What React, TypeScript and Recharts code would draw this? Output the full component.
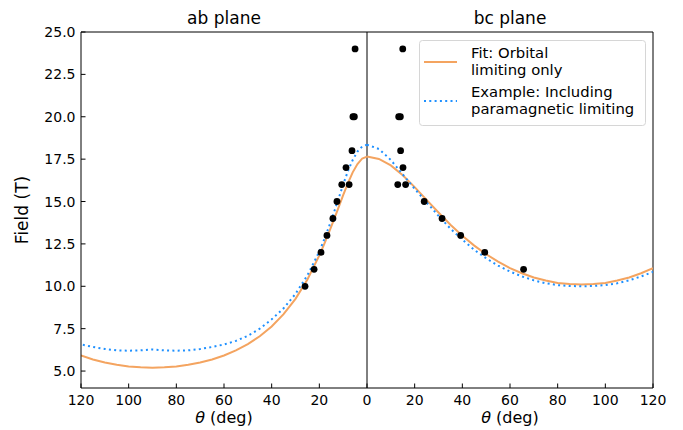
import React from 'react';
import { ComposedChart, Line, Scatter, XAxis, YAxis, ReferenceLine } from 'recharts';

// ab plane (left panel), angle in degrees
const abAngles = [0, 2, 4, 6, 8, 10, 12, 14, 16, 18, 20, 25, 30, 35, 40, 45, 50, 55, 60, 65, 70, 75, 80, 85, 90, 95, 100, 105, 110, 115, 120];
const abFit = [17.65, 17.54, 17.21, 16.72, 16.09, 15.38, 14.63, 13.89, 13.16, 12.47, 11.82, 10.4, 9.26, 8.36, 7.63, 7.05, 6.59, 6.22, 5.92, 5.68, 5.5, 5.37, 5.27, 5.22, 5.2, 5.22, 5.27, 5.37, 5.5, 5.68, 5.92];
const abExample = [18.35, 18.25, 17.95, 17.45, 16.8, 16.0, 15.15, 14.3, 13.5, 12.75, 12.05, 10.65, 9.55, 8.7, 8.05, 7.5, 7.08, 6.78, 6.57, 6.42, 6.3, 6.22, 6.2, 6.22, 6.27, 6.22, 6.2, 6.22, 6.3, 6.42, 6.57];
const abPointAngles = [5, 5.3, 5.9, 6.3, 8.8, 10.6, 7.5, 12.6, 14.3, 16.8, 19.3, 22.2, 26];
const abPointFields = [24, 20, 20, 18, 17, 16, 16, 15, 14, 13, 12, 11, 10];

// bc plane (right panel)
const bcAngles = [0, 5, 10, 15, 20, 25, 30, 35, 40, 45, 50, 55, 60, 65, 70, 75, 80, 85, 90, 95, 100, 105, 110, 115, 120];
const bcFit = [17.65, 17.51, 17.13, 16.55, 15.85, 15.1, 14.35, 13.63, 12.98, 12.4, 11.89, 11.45, 11.07, 10.77, 10.52, 10.34, 10.2, 10.13, 10.1, 10.13, 10.2, 10.34, 10.52, 10.77, 11.07];
const bcExample = [18.35, 18.1, 17.45, 16.6, 15.75, 14.95, 14.15, 13.4, 12.75, 12.15, 11.65, 11.22, 10.87, 10.58, 10.35, 10.18, 10.07, 10.02, 10.0, 10.02, 10.07, 10.18, 10.35, 10.58, 10.85];
const bcPointAngles = [15, 13.3, 14, 14.1, 15.1, 12.9, 16.2, 24, 31.5, 39.3, 49.4, 65.7];
const bcPointFields = [24, 20, 20, 18, 17, 16, 16, 15, 14, 13, 12, 11];

const xTicks = [-120, -100, -80, -60, -40, -20, 0, 20, 40, 60, 80, 100, 120];
const yTicks = [5, 7.5, 10, 12.5, 15, 17.5, 20, 22.5, 25];

const ORANGE = '#F4A460';
const BLUE = '#1E90FF';
const FONT = 'DejaVu Sans';

const abFitData = abAngles.map((a, i) => ({ x: -a, y: abFit[i] }));
const abExData = abAngles.map((a, i) => ({ x: -a, y: abExample[i] }));
const bcFitData = bcAngles.map((a, i) => ({ x: a, y: bcFit[i] }));
const bcExData = bcAngles.map((a, i) => ({ x: a, y: bcExample[i] }));
const points = [
  ...abPointAngles.map((a, i) => ({ x: -a, y: abPointFields[i] })),
  ...bcPointAngles.map((a, i) => ({ x: a, y: bcPointFields[i] })),
];

const XTick = (props: any) => {
  const { x, y, payload } = props;
  return (
    <g>
      <line x1={x} x2={x} y1={y} y2={y - 4.5} stroke="#000" strokeWidth={1} />
      <text x={x} y={y + 17} textAnchor="middle" fontSize={14} fontFamily={FONT} fill="#000">
        {Math.abs(payload.value)}
      </text>
    </g>
  );
};

const YTick = (props: any) => {
  const { x, y, payload } = props;
  return (
    <g>
      <line x1={x} x2={x + 4.5} y1={y} y2={y} stroke="#000" strokeWidth={1} />
      <text x={x - 5.5} y={y + 5} textAnchor="end" fontSize={14} fontFamily={FONT} fill="#000">
        {Number(payload.value).toFixed(1)}
      </text>
    </g>
  );
};

const Dot = (props: any) => <circle cx={props.cx} cy={props.cy} r={3.4} fill="#000" />;

export default function App() {
  return (
    <div style={{ position: 'absolute', left: 0, top: 0, width: 683, height: 430, background: '#fff' }}>
      <ComposedChart width={683} height={430} margin={{ top: 32, right: 30, bottom: 12, left: 21 }}>
        <XAxis
          type="number"
          dataKey="x"
          domain={[-120, 120]}
          ticks={xTicks}
          height={30}
          tickSize={0}
          tickMargin={0}
          tickLine={false}
          tick={XTick}
          axisLine={{ stroke: '#000', strokeWidth: 1 }}
          allowDataOverflow
          interval={0}
        />
        <YAxis
          type="number"
          dataKey="y"
          domain={[4, 25]}
          ticks={yTicks}
          width={60}
          tickSize={0}
          tickMargin={0}
          tickLine={false}
          tick={YTick}
          axisLine={{ stroke: '#000', strokeWidth: 1 }}
          allowDataOverflow
          interval={0}
        />
        <ReferenceLine y={25} stroke="#000" strokeWidth={1} />
        <ReferenceLine x={120} stroke="#000" strokeWidth={1} />
        <ReferenceLine x={0} stroke="#000" strokeWidth={1} />
        <Line data={abFitData} dataKey="y" type="linear" stroke={ORANGE} strokeWidth={2} dot={false} isAnimationActive={false} />
        <Line data={bcFitData} dataKey="y" type="linear" stroke={ORANGE} strokeWidth={2} dot={false} isAnimationActive={false} />
        <Line data={abExData} dataKey="y" type="linear" stroke={BLUE} strokeWidth={2} strokeDasharray="2 3.3" dot={false} isAnimationActive={false} />
        <Line data={bcExData} dataKey="y" type="linear" stroke={BLUE} strokeWidth={2} strokeDasharray="2 3.3" dot={false} isAnimationActive={false} />
        <Scatter data={points} dataKey="y" shape={Dot} isAnimationActive={false} />
      </ComposedChart>
      <svg width={683} height={430} style={{ position: 'absolute', left: 0, top: 0, pointerEvents: 'none' }}>
        <text x={224} y={24} textAnchor="middle" fontSize={17} fontFamily={FONT} fill="#000">ab plane</text>
        <text x={510} y={24} textAnchor="middle" fontSize={17} fontFamily={FONT} fill="#000">bc plane</text>
        <text x={224} y={423} textAnchor="middle" fontSize={16} fontFamily={FONT} fill="#000">
          <tspan fontStyle="italic">θ</tspan> (deg)
        </text>
        <text x={510} y={423} textAnchor="middle" fontSize={16} fontFamily={FONT} fill="#000">
          <tspan fontStyle="italic">θ</tspan> (deg)
        </text>
        <text x={28} y={210} textAnchor="middle" fontSize={17} fontFamily={FONT} fill="#000" transform="rotate(-90 28 210)">Field (T)</text>
        <rect x={419.5} y={40.5} width={226} height={85} rx={3} fill="rgba(255,255,255,0.8)" stroke="#d6d6d6" strokeWidth={1} />
        <line x1={424} x2={457} y1={62} y2={62} stroke={ORANGE} strokeWidth={2} />
        <line x1={424} x2={457} y1={101} y2={101} stroke={BLUE} strokeWidth={2} strokeDasharray="2 3.3" />
        <text x={471} y={57.5} fontSize={14.8} fontFamily={FONT} fill="#000">Fit: Orbital</text>
        <text x={471} y={74.5} fontSize={14.8} fontFamily={FONT} fill="#000">limiting only</text>
        <text x={471} y={97} fontSize={14.8} fontFamily={FONT} fill="#000">Example: Including</text>
        <text x={471} y={114} fontSize={14.8} fontFamily={FONT} fill="#000">paramagnetic limiting</text>
      </svg>
    </div>
  );
}
